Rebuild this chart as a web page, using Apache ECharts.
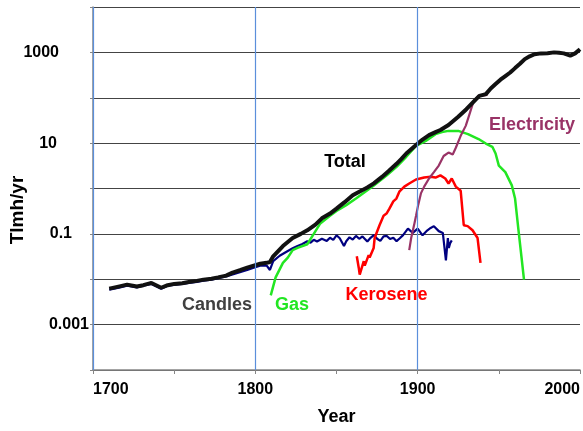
<!DOCTYPE html>
<html>
<head>
<meta charset="utf-8">
<script src="https://cdn.jsdelivr.net/npm/echarts@6/dist/echarts.min.js"></script>
<style>
  html, body { margin: 0; padding: 0; background: #fff; }
  #chart { width: 583px; height: 431px; }
</style>
</head>
<body>
<div id="chart"></div>
<script>
// light consumption, Tlm-h per year
const totalYears = [1710, 1715, 1721, 1727, 1731, 1736, 1742, 1746, 1750, 1755, 1759, 1764, 1768, 1773, 1777, 1782, 1786, 1791, 1795, 1799, 1803, 1807, 1809, 1811, 1817, 1823, 1828, 1832, 1837, 1841, 1846, 1850, 1855, 1860, 1864, 1869, 1873, 1878, 1882, 1887, 1890, 1893, 1899, 1903, 1907, 1911, 1914, 1919, 1925, 1930, 1936, 1938, 1942, 1945, 1948, 1951, 1954, 1957, 1960, 1963, 1966, 1969, 1972, 1976, 1980, 1984, 1987, 1990, 1994, 1997, 2000];
const totalValues = [0.0062, 0.0068, 0.0076, 0.0069, 0.0074, 0.0083, 0.0065, 0.0074, 0.0079, 0.0082, 0.0087, 0.0092, 0.0098, 0.0103, 0.011, 0.012, 0.014, 0.016, 0.018, 0.020, 0.022, 0.023, 0.024, 0.032, 0.054, 0.081, 0.10, 0.12, 0.16, 0.22, 0.28, 0.36, 0.50, 0.71, 0.85, 1.05, 1.3, 1.8, 2.4, 3.5, 4.5, 5.9, 9.1, 12, 15, 17.5, 19.5, 25, 38, 56, 93, 110, 120, 160, 200, 250, 300, 360, 450, 560, 710, 820, 910, 950, 960, 1000, 980, 950, 850, 950, 1170];

const candleYears = [1710, 1716, 1721, 1727, 1731, 1736, 1742, 1746, 1750, 1755, 1759, 1764, 1768, 1773, 1777, 1782, 1786, 1791, 1795, 1799, 1803, 1807, 1809, 1811, 1815, 1820, 1823, 1826, 1829, 1832, 1834, 1836, 1838, 1841, 1844, 1846, 1848, 1850, 1852, 1854.6, 1856, 1858, 1860, 1862, 1864, 1866, 1869, 1871, 1873, 1875, 1877, 1879, 1881, 1883, 1885, 1887, 1889, 1891, 1894, 1897, 1900, 1903, 1906, 1908, 1910, 1913, 1915.5, 1917.4, 1918.6, 1919.2, 1920, 1921];
const candleValues = [0.0059, 0.0065, 0.0072, 0.0066, 0.0072, 0.0079, 0.0062, 0.0072, 0.0075, 0.0079, 0.0083, 0.0087, 0.0093, 0.0098, 0.0105, 0.0115, 0.0128, 0.0145, 0.016, 0.018, 0.020, 0.020, 0.016, 0.025, 0.033, 0.042, 0.048, 0.054, 0.060, 0.069, 0.064, 0.074, 0.068, 0.078, 0.070, 0.082, 0.074, 0.093, 0.080, 0.054, 0.069, 0.084, 0.075, 0.090, 0.078, 0.088, 0.068, 0.082, 0.094, 0.078, 0.070, 0.088, 0.090, 0.077, 0.082, 0.069, 0.080, 0.094, 0.13, 0.105, 0.13, 0.093, 0.12, 0.135, 0.148, 0.115, 0.105, 0.026, 0.081, 0.049, 0.062, 0.072];

const gasYears = [1809.5, 1812.5, 1817, 1820, 1823, 1826, 1832, 1836, 1840, 1846, 1850, 1856, 1862, 1869, 1873, 1881, 1887, 1893, 1899, 1905, 1911, 1915, 1919, 1925, 1931, 1937.5, 1942, 1946, 1948, 1950, 1954, 1958, 1960, 1962, 1964, 1965.5];
const gasValues = [0.0044, 0.011, 0.023, 0.030, 0.044, 0.049, 0.059, 0.10, 0.17, 0.25, 0.32, 0.43, 0.60, 0.91, 1.17, 1.95, 3.0, 5.0, 8.7, 11.2, 15.8, 17.5, 18.6, 18.6, 15.8, 12.3, 9.8, 8.3, 5.9, 3.2, 2.3, 1.17, 0.60, 0.13, 0.030, 0.0098];

const keroseneYears = [1862.5, 1863.7, 1864.3, 1866.8, 1867.4, 1869.8, 1870.4, 1872.9, 1873.5, 1876.5, 1879, 1880.8, 1882.6, 1885, 1886.9, 1888.7, 1891.8, 1894.8, 1899, 1904, 1908, 1911, 1914, 1917, 1919, 1921, 1923.5, 1926.5, 1928.4, 1930.8, 1933.8, 1936.9, 1938.7];
const keroseneValues = [0.032, 0.018, 0.0126, 0.025, 0.020, 0.034, 0.030, 0.049, 0.081, 0.155, 0.25, 0.28, 0.36, 0.52, 0.60, 0.85, 1.10, 1.29, 1.58, 1.74, 1.82, 1.74, 1.95, 1.66, 1.29, 1.66, 1.10, 0.89, 0.155, 0.148, 0.12, 0.081, 0.023];

const electricityYears = [1894.8, 1896, 1898, 1899, 1900.3, 1902, 1904, 1907, 1910, 1913, 1916, 1919, 1921.6, 1923.5, 1926.5, 1929.6, 1931.4, 1934.5, 1937.5, 1943];
const electricityValues = [0.044, 0.081, 0.17, 0.25, 0.43, 0.78, 1.10, 1.66, 2.3, 3.2, 5.2, 6.2, 5.6, 7.9, 14.5, 24, 38, 85, 110, 115];

const yTickLabels = ['1000', '10', '0.1', '0.001'];
// century gridlines, as in the original
const centuryLines = [1700, 1800, 1900];

const zip = (xs, ys) => xs.map((x, i) => [x, ys[i]]);

// excel put the y labels at uneven offsets, mimic with right padding
const yLabelPad = { '1000': 30, '10': 32, '0.1': 17, '0.001': 0 };
const labelFont = { fontFamily: 'Liberation Sans', fontWeight: 'bold', fontSize: 16, color: '#000' };
const rich = {};
yTickLabels.forEach((t, i) => {
  rich['p' + i] = Object.assign({ padding: [0, yLabelPad[t], 0, 0] }, labelFont);
});

const chart = echarts.init(document.getElementById('chart'));

const lineSeries = (name, data, color, width) => ({
  name: name,
  type: 'line',
  data: data,
  showSymbol: false,
  symbol: 'none',
  lineStyle: { color: color, width: width },
  emphasis: { disabled: true }
});

const annot = (text, x, y, color) => ({
  type: 'text',
  x: x,
  y: y,
  z: 100,
  style: {
    text: text,
    fill: color,
    font: 'bold 18px "Liberation Sans"',
    align: 'center',
    verticalAlign: 'middle'
  }
});

const candles = lineSeries('Candles', zip(candleYears, candleValues), '#000080', 2.2);
candles.markLine = {
  silent: true,
  symbol: 'none',
  label: { show: false },
  lineStyle: { color: '#5b8fdb', width: 1.2, type: 'solid' },
  data: centuryLines.map(y => ({ xAxis: y }))
};

chart.setOption({
  animation: false,
  backgroundColor: '#fff',
  grid: { left: 93, top: 7, right: -3, bottom: 58 },
  xAxis: {
    type: 'value',
    min: 1700,
    max: 2000,
    interval: 50,
    name: 'Year',
    nameLocation: 'middle',
    nameGap: 38,
    nameTextStyle: { fontFamily: 'Liberation Sans', fontWeight: 'bold', fontSize: 18, color: '#000', verticalAlign: 'top' },
    axisLine: { lineStyle: { color: '#868686', width: 1.5 } },
    axisTick: { length: 4, lineStyle: { color: '#868686' } },
    axisLabel: Object.assign({
      margin: 12,
      alignMinLabel: 'left',
      alignMaxLabel: 'right',
      formatter: v => (v % 100 === 0 ? String(v) : '')
    }, labelFont),
    splitLine: { show: false }
  },
  yAxis: {
    type: 'log',
    logBase: 10,
    min: 0.0001,
    max: 10000,
    splitNumber: 8,
    axisLine: { show: true, lineStyle: { color: '#868686', width: 1.5 } },
    axisTick: { show: true, length: 3, lineStyle: { color: '#868686' } },
    axisLabel: {
      margin: 4,
      formatter: v => {
        const e = Math.log10(v);
        const idx = yTickLabels.findIndex(t => Math.abs(Math.log10(parseFloat(t)) - e) < 1e-6);
        return idx < 0 ? '' : '{p' + idx + '|' + yTickLabels[idx] + '}';
      },
      rich: rich
    },
    splitLine: { show: true, lineStyle: { color: '#444', width: 1 } }
  },
  series: [
    candles,
    lineSeries('Gas', zip(gasYears, gasValues), '#22e622', 2.5),
    lineSeries('Kerosene', zip(keroseneYears, keroseneValues), '#ff0000', 2.5),
    lineSeries('Electricity', zip(electricityYears, electricityValues), '#993366', 2.2),
    lineSeries('Total', zip(totalYears, totalValues), '#111', 4)
  ],
  graphic: [
    {
      type: 'text',
      x: 18,
      y: 210,
      rotation: Math.PI / 2,
      style: {
        text: 'Tlmh/yr',
        fill: '#000',
        font: 'bold 19px "Liberation Sans"',
        align: 'center',
        verticalAlign: 'middle'
      }
    },
    annot('Total', 345, 162.5, '#000'),
    annot('Candles', 217, 305.5, '#404040'),
    annot('Gas', 292, 305.5, '#22e622'),
    annot('Kerosene', 386.5, 295, '#ff0000'),
    annot('Electricity', 532, 125, '#993366')
  ]
});
</script>
</body>
</html>
